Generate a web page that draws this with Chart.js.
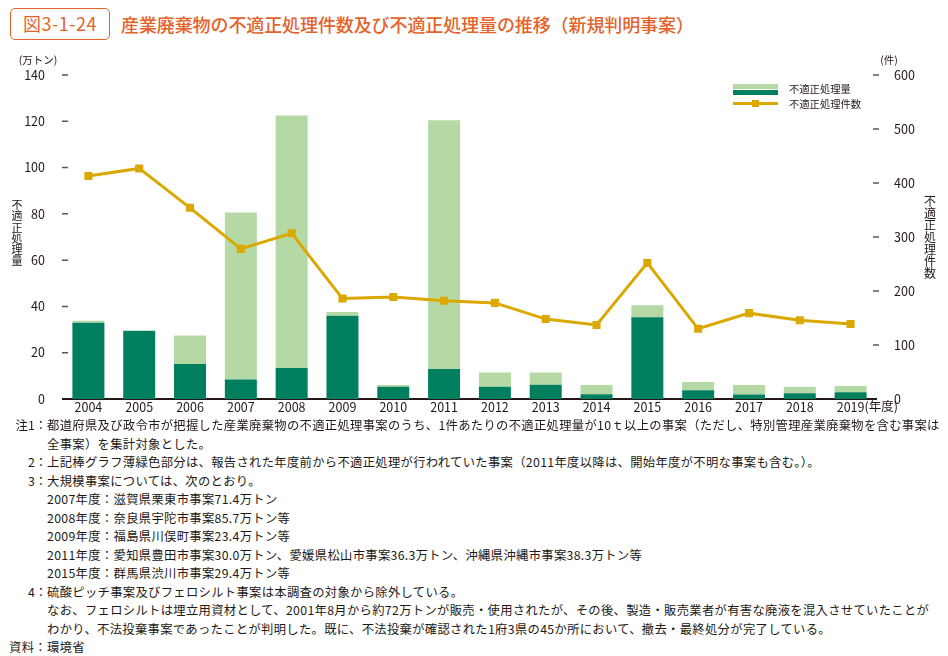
<!DOCTYPE html>
<html lang="ja">
<head>
<meta charset="utf-8">
<script src="https://cdn.jsdelivr.net/npm/chart.js@4.4.0/dist/chart.umd.min.js"></script>
<style>
body { margin:0; width:948px; height:656px; background:#fff; position:relative; overflow:hidden; font-family:"Noto Sans CJK JP", "Noto Sans", sans-serif; color:#231815; }
.fig { position:absolute; left:10px; top:8px; width:100px; height:32px; border:1.5px solid #e3632b; border-radius:5px; color:#e3632b; font-size:18px; letter-spacing:0.5px; line-height:29px; text-align:center; box-sizing:border-box; }
.title { position:absolute; left:121px; top:8px; height:32px; line-height:32px; font-size:18px; letter-spacing:-0.1px; color:#e3632b; white-space:nowrap; font-weight:500; }
#wrap { position:absolute; left:0; top:45px; width:948px; height:375px; }
.lg-text { position:absolute; left:789px; font-size:10.3px; line-height:14px; white-space:nowrap; }
.note { position:absolute; font-size:12.3px; letter-spacing:0.33px; line-height:18px; white-space:nowrap; color:#231815; }
.note .lab { display:inline-block; width:38px; text-align:right; letter-spacing:0; }
</style>
</head>
<body>
<div class="fig">図3-1-24</div>
<div class="title">産業廃棄物の不適正処理件数及び不適正処理量の推移（新規判明事案）</div>
<div id="wrap"><canvas id="chart" width="948" height="375"></canvas></div>

<!-- legend -->
<div style="position:absolute;left:733px;top:84px;width:45px;height:5px;background:#b5d9a5"></div>
<div style="position:absolute;left:733px;top:89.5px;width:45px;height:5px;background:#007f5f"></div>
<div class="lg-text" style="top:82px">不適正処理量</div>
<div style="position:absolute;left:733px;top:102.3px;width:45px;height:3px;background:#dba800"></div>
<div style="position:absolute;left:751.5px;top:100.3px;width:7px;height:7px;background:#dba800"></div>
<div class="lg-text" style="top:96.7px">不適正処理件数</div>

<div id="notes"></div>

<script>
const years = ['2004', '2005', '2006', '2007', '2008', '2009', '2010', '2011',
    '2012', '2013', '2014', '2015', '2016', '2017', '2018', '2019'];
// 不適正処理量 (万トン): dark = that year's cases, light = started before the reported year
const currentAmount = [33.0, 29.5, 15.1, 8.4, 13.4, 36.0, 5.3, 13.0, 5.3, 6.2, 2.0, 35.3, 3.8, 1.9, 2.5, 2.9];
const priorAmount = [0.8, 0, 12.3, 72.2, 109.1, 1.6, 0.7, 107.5, 6.1, 5.2, 4.0, 5.2, 3.5, 4.1, 2.7, 2.7];
// 不適正処理件数 (件)
const caseCount = [413, 427, 354, 278, 307, 186, 189, 182, 178, 148, 137, 252, 130, 159, 146, 139];
const amountTicks = [0, 20, 40, 60, 80, 100, 120, 140];
const caseTicks = [0, 100, 200, 300, 400, 500, 600];

const notes = [
    ['注1：', '都道府県及び政令市が把握した産業廃棄物の不適正処理事案のうち、1件あたりの不適正処理量が10ｔ以上の事案（ただし、特別管理産業廃棄物を含む事案は'],
    ['', '全事案）を集計対象とした。'],
    ['2：', '上記棒グラフ薄緑色部分は、報告された年度前から不適正処理が行われていた事案（2011年度以降は、開始年度が不明な事案も含む。）。'],
    ['3：', '大規模事案については、次のとおり。'],
    ['', '2007年度：滋賀県栗東市事案71.4万トン'],
    ['', '2008年度：奈良県宇陀市事案85.7万トン等'],
    ['', '2009年度：福島県川俣町事案23.4万トン等'],
    ['', '2011年度：愛知県豊田市事案30.0万トン、愛媛県松山市事案36.3万トン、沖縄県沖縄市事案38.3万トン等'],
    ['', '2015年度：群馬県渋川市事案29.4万トン等'],
    ['4：', '硫酸ピッチ事案及びフェロシルト事案は本調査の対象から除外している。'],
    ['', 'なお、フェロシルトは埋立用資材として、2001年8月から約72万トンが販売・使用されたが、その後、製造・販売業者が有害な廃液を混入させていたことが'],
    ['', 'わかり、不法投棄事案であったことが判明した。既に、不法投棄が確認された1府3県の45か所において、撤去・最終処分が完了している。'],
];

const notesEl = document.getElementById('notes');
notes.forEach(([lab, text], i) => {
    const d = document.createElement('div');
    d.className = 'note';
    d.style.left = '9px';
    d.style.top = (416 + i * 18.5) + 'px';
    d.innerHTML = '<span class="lab">' + lab + '</span>' + text;
    notesEl.appendChild(d);
});
const src = document.createElement('div');
src.className = 'note';
src.style.left = '9px';
src.style.top = (416 + 12 * 18.5) + 'px';
src.textContent = '資料：環境省';
notesEl.appendChild(src);

const FONT = '"Noto Sans CJK JP", "Noto Sans", sans-serif';
const TEXT = '#231815';

// axis units, vertical titles, short tick dashes and the (年度) suffix
const decorations = {
    id: 'decorations',
    afterDraw(chart) {
        const {ctx, chartArea: area, scales: {x, y, y1}} = chart;
        ctx.save();
        ctx.strokeStyle = '#595757';
        ctx.lineWidth = 1.5;
        ctx.beginPath();
        y.ticks.forEach(t => {
            if (t.value === 0) return;
            const py = y.getPixelForValue(t.value);
            ctx.moveTo(area.left - 1, py);
            ctx.lineTo(area.left + 5, py);
        });
        y1.ticks.forEach(t => {
            if (t.value === 0) return;
            const py = y1.getPixelForValue(t.value);
            ctx.moveTo(area.right - 3, py);
            ctx.lineTo(area.right + 3, py);
        });
        ctx.stroke();

        ctx.fillStyle = TEXT;
        ctx.textAlign = 'center';
        ctx.textBaseline = 'middle';
        ctx.font = '10.5px ' + FONT;
        ctx.fillText('(万トン)', 38, 15);
        ctx.fillText('(件)', 889, 15);

        ctx.font = '11px ' + FONT;
        [...'不適正処理量'].forEach((c, i) => ctx.fillText(c, 17, 160 + i * 11.2));
        ctx.font = '12px ' + FONT;
        [...'不適正処理件数'].forEach((c, i) => ctx.fillText(c, 930, 156 + i * 12));

        ctx.font = '12.5px ' + FONT;
        ctx.textAlign = 'left';
        const lastX = x.getPixelForValue(years.length - 1);
        ctx.fillText('(年度)', lastX + 14, 361.5);
        ctx.restore();
    }
};

new Chart(document.getElementById('chart'), {
    type: 'bar',
    data: {
        labels: years,
        datasets: [
            {
                type: 'line',
                label: '不適正処理件数',
                data: caseCount,
                yAxisID: 'y1',
                borderColor: '#dba800',
                backgroundColor: '#dba800',
                borderWidth: 3,
                pointStyle: 'rect',
                pointRadius: 5.7,
                pointBorderWidth: 0,
                tension: 0,
                order: 0
            },
            {
                label: '不適正処理量',
                data: currentAmount,
                backgroundColor: '#007f5f',
                yAxisID: 'y',
                barPercentage: 0.63,
                categoryPercentage: 1,
                order: 1
            },
            {
                label: '不適正処理量（前年度以前）',
                data: priorAmount,
                backgroundColor: '#b5d9a5',
                yAxisID: 'y',
                barPercentage: 0.63,
                categoryPercentage: 1,
                order: 1
            }
        ]
    },
    options: {
        responsive: false,
        animation: false,
        devicePixelRatio: 1,
        layout: { padding: { top: 30, left: 0, right: 0, bottom: 0 } },
        plugins: {
            legend: { display: false },
            tooltip: { enabled: false }
        },
        scales: {
            x: {
                stacked: true,
                grid: { display: true, drawOnChartArea: false, drawTicks: false },
                border: { display: true, color: '#231815', width: 2 },
                ticks: { color: TEXT, font: { family: FONT, size: 12.5 }, padding: 1, autoSkip: false, maxRotation: 0 },
                afterFit: (scale) => { scale.height = 21; }
            },
            y: {
                stacked: true,
                position: 'left',
                min: 0,
                max: 140,
                grid: { display: false },
                border: { display: false },
                afterBuildTicks: (scale) => { scale.ticks = amountTicks.map(v => ({ value: v })); },
                ticks: { color: TEXT, font: { family: FONT, size: 12.5 }, padding: 10 },
                afterFit: (scale) => { scale.width = 63; }
            },
            y1: {
                position: 'right',
                min: 0,
                max: 600,
                grid: { display: false },
                border: { display: false },
                afterBuildTicks: (scale) => { scale.ticks = caseTicks.map(v => ({ value: v })); },
                ticks: { color: TEXT, font: { family: FONT, size: 12.5 }, padding: 10 },
                afterFit: (scale) => { scale.width = 72; }
            }
        }
    },
    plugins: [decorations]
});
</script>
</body>
</html>
